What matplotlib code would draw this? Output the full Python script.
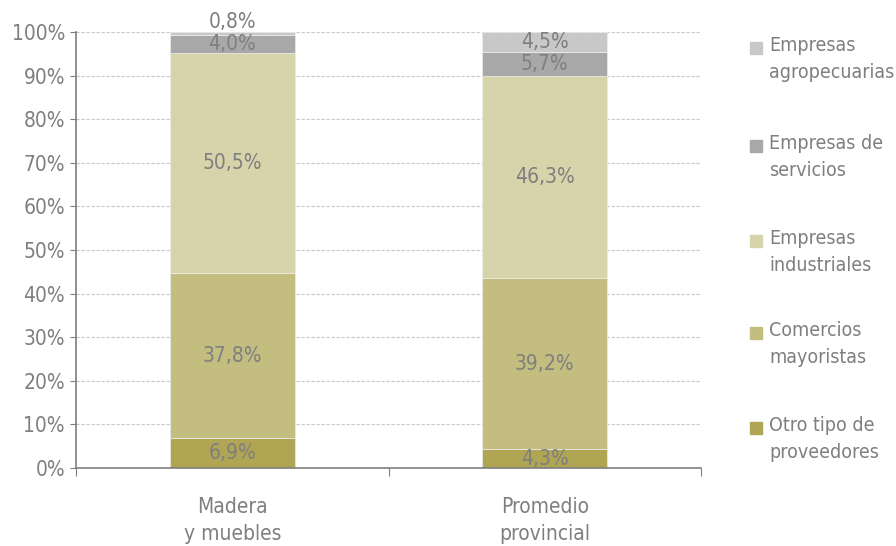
import matplotlib
matplotlib.use("Agg")
import matplotlib.pyplot as plt
import numpy as np

plt.rcParams['font.family'] = ['DejaVu Sans']
plt.rcParams['font.stretch'] = 'condensed'

categorias = ["Madera\ny muebles", "Promedio\nprovincial"]
series = ["Otro tipo de\nproveedores", "Comercios\nmayoristas", "Empresas\nindustriales",
          "Empresas de\nservicios", "Empresas\nagropecuarias"]
valores = [
    [6.9, 4.3],    # Otro tipo de proveedores
    [37.8, 39.2],  # Comercios mayoristas
    [50.5, 46.3],  # Empresas industriales
    [4.0, 5.7],    # Empresas de servicios
    [0.8, 4.5],    # Empresas agropecuarias
]
colores = ["#afa552", "#c3bd80", "#d7d3aa", "#a8a8a8", "#c8c8c8"]
gris = "#7f7f7f"

fig = plt.figure(figsize=(8.96, 5.46), dpi=100)
ax = fig.add_axes([76/896, 1-468/546, (701-76)/896, (468-32)/546])

x = np.arange(len(categorias))
base = np.zeros(len(categorias))
for vals, col in zip(valores, colores):
    vals = np.array(vals)
    ax.bar(x, vals, 0.4, bottom=base, color=col, edgecolor="#eeeeee", linewidth=0.5, zorder=2)
    for xi, b, v in zip(x, base, vals):
        yy = b + v / 2
        if v < 2:
            yy = b + v + 2.2
        ax.text(xi, yy, f"{v:.1f}%".replace(".", ","), ha="center", va="center",
                fontsize=15, color=gris, zorder=3)
    base += vals

ax.set_xlim(-0.5, 1.5)
ax.set_ylim(0, 100)
ax.set_yticks(np.arange(0, 101, 10))
ax.set_yticklabels([f"{t}%" for t in range(0, 101, 10)])
ax.yaxis.grid(True, color="#c8c8c8", linestyle=(0, (3, 1.5)), linewidth=0.8, zorder=0)
ax.set_xticks([-0.5, 0.5, 1.5])
ax.set_xticklabels([])
ax.set_xticks(x, minor=True)
ax.set_xticklabels(categorias, minor=True)
ax.tick_params(axis="x", which="minor", length=0, pad=21, labelsize=15, labelcolor=gris)
ax.tick_params(axis="x", which="major", length=6, color=gris)
ax.tick_params(axis="y", length=4, color=gris, labelsize=15, labelcolor=gris, pad=4)
for lbl in ax.get_xticklabels(minor=True):
    lbl.set_linespacing(1.4)
for s in ["top", "right"]:
    ax.spines[s].set_visible(False)
for s in ["left", "bottom"]:
    ax.spines[s].set_color(gris)
    ax.spines[s].set_linewidth(1.2)

# leyenda
ys = [428, 333, 241, 146, 48]
for nombre, col, yp in zip(series, colores, ys):
    fig.patches.append(plt.Rectangle((750/896, 1-(yp+6)/546), 12/896, 12/546,
                                     transform=fig.transFigure, color=col))
    fig.text(769/896, 1-(yp-12)/546, nombre, ha="left", va="top", fontsize=14, color=gris,
             linespacing=1.55, transform=fig.transFigure)

fig.savefig("out.png", dpi=100)
